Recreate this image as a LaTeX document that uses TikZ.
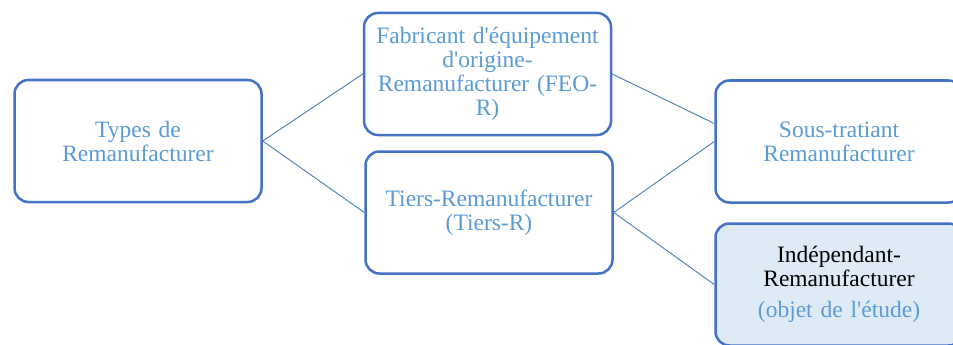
\documentclass[tikz,border=0pt]{standalone}
\usepackage{fontspec}
\setmainfont{Liberation Serif}
\usetikzlibrary{positioning}
\definecolor{boxblue}{HTML}{4472C4}
\definecolor{txtblue}{HTML}{5B9BD5}
\definecolor{lineblue}{HTML}{4A7EBB}
\definecolor{fillblue}{HTML}{DEEBF7}
\newcommand{\apos}{\textquotesingle}

\begin{document}
\begin{tikzpicture}[
    x=1pt, y=-1pt,
    block/.style={rectangle, draw=boxblue, line width=2.5pt, fill=white, rounded corners=14pt, minimum width=247pt, minimum height=122pt, text width=240pt, align=center, text=txtblue, font=\fontsize{23.5}{24}\selectfont},
    link/.style={draw=lineblue, line width=0.9pt}
]
\useasboundingbox (0,0) rectangle (953,345);
\clip (0,0) rectangle (953,345);

% Define nodes from left to right
\node [block] (types) at (138,141) {Types de\\Remanufacturer};
\node [block] (feo) at (487.5,74) {Fabricant d\apos équipement\\d\apos origine-\\Remanufacturer (FEO-\\R)};
\node [block] (tiers) at (489,212.5) {Tiers-Remanufacturer\\(Tiers-R)};
\node [block] (sous) at (839,141.5) {Sous-tratiant\\Remanufacturer};
\node [block, fill=fillblue, text=black] (indep) at (839,284.5) {Indépendant-\\Remanufacturer\\[7pt]\textcolor{txtblue}{(objet de l\apos étude)}};

% Draw connectors
\draw [link] (types.east) -- (feo.west);
\draw [link] (types.east) -- (tiers.west);
\draw [link] (feo.east) -- ([yshift=18pt]sous.west);
\draw [link] (tiers.east) -- (sous.west);
\draw [link] (tiers.east) -- (indep.west);

\end{tikzpicture}
\end{document}
